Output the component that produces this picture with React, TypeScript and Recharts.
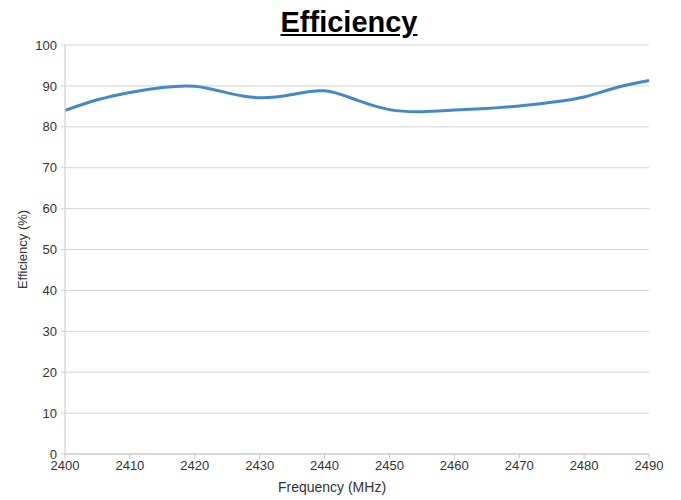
import React from 'react';
import { LineChart, Line, XAxis, YAxis, CartesianGrid } from 'recharts';

const frequencies = [2400, 2405, 2410, 2415, 2420, 2425, 2430, 2435, 2440, 2445, 2450, 2455, 2460, 2465, 2470, 2475, 2480, 2485, 2490];
const efficiency = [84.0, 86.6, 88.4, 89.6, 89.9, 88.3, 87.1, 87.9, 88.8, 86.5, 84.2, 83.7, 84.1, 84.5, 85.1, 86.0, 87.3, 89.6, 91.3];
const xTicks = [2400, 2410, 2420, 2430, 2440, 2450, 2460, 2470, 2480, 2490];
const yTicks = [0, 10, 20, 30, 40, 50, 60, 70, 80, 90, 100];

const data = frequencies.map((f, i) => ({ f, e: efficiency[i] }));

const FONT = '"Liberation Sans", Arial, sans-serif';

export default function App() {
  return (
    <div style={{ position: 'absolute', left: 0, top: 0, width: 681, height: 500, background: '#fff', fontFamily: FONT }}>
      <div
        style={{
          position: 'absolute',
          left: 0,
          top: 4,
          width: 698,
          textAlign: 'center',
          fontSize: 29,
          fontWeight: 'bold',
          textDecoration: 'underline',
          color: '#000',
          lineHeight: '36px',
        }}
      >
        Efficiency
      </div>
      <LineChart width={681} height={500} data={data} margin={{ top: 45, right: 32, left: 0, bottom: 0 }}>
        <CartesianGrid vertical={false} stroke="#d4d4d4" strokeWidth={1} />
        <XAxis
          dataKey="f"
          type="number"
          domain={[2400, 2490]}
          ticks={xTicks}
          height={46}
          tickSize={5}
          tickMargin={2}
          axisLine={{ stroke: '#c8c8c8' }}
          tickLine={{ stroke: '#c8c8c8' }}
          tick={{ fill: '#333333', fontSize: 13, fontFamily: FONT }}
          label={{
            content: (props: any) => {
              const vb = props.viewBox || { x: 65, y: 454, width: 584, height: 46 };
              return (
                <text
                  x={vb.x + vb.width / 2 - 25}
                  y={vb.y + 38}
                  textAnchor="middle"
                  fill="#333333"
                  fontSize={14}
                  fontFamily={FONT}
                >
                  Frequency (MHz)
                </text>
              );
            },
          }}
        />
        <YAxis
          type="number"
          domain={[0, 100]}
          ticks={yTicks}
          width={65}
          tickSize={4}
          tickMargin={4}
          axisLine={{ stroke: '#c8c8c8' }}
          tickLine={{ stroke: '#d4d4d4' }}
          tick={{ fill: '#333333', fontSize: 13, fontFamily: FONT }}
          label={{
            content: (props: any) => {
              const vb = props.viewBox || { x: 0, y: 45, width: 65, height: 409 };
              const cx = 22;
              const cy = vb.y + vb.height / 2;
              return (
                <text
                  x={cx}
                  y={cy}
                  transform={`rotate(-90 ${cx} ${cy})`}
                  textAnchor="middle"
                  dominantBaseline="central"
                  fill="#333333"
                  fontSize={13}
                  fontFamily={FONT}
                >
                  Efficiency (%)
                </text>
              );
            },
          }}
        />
        <Line
          type="natural"
          dataKey="e"
          stroke="#4488cc"
          strokeWidth={3}
          dot={false}
          isAnimationActive={false}
        />
      </LineChart>
    </div>
  );
}
